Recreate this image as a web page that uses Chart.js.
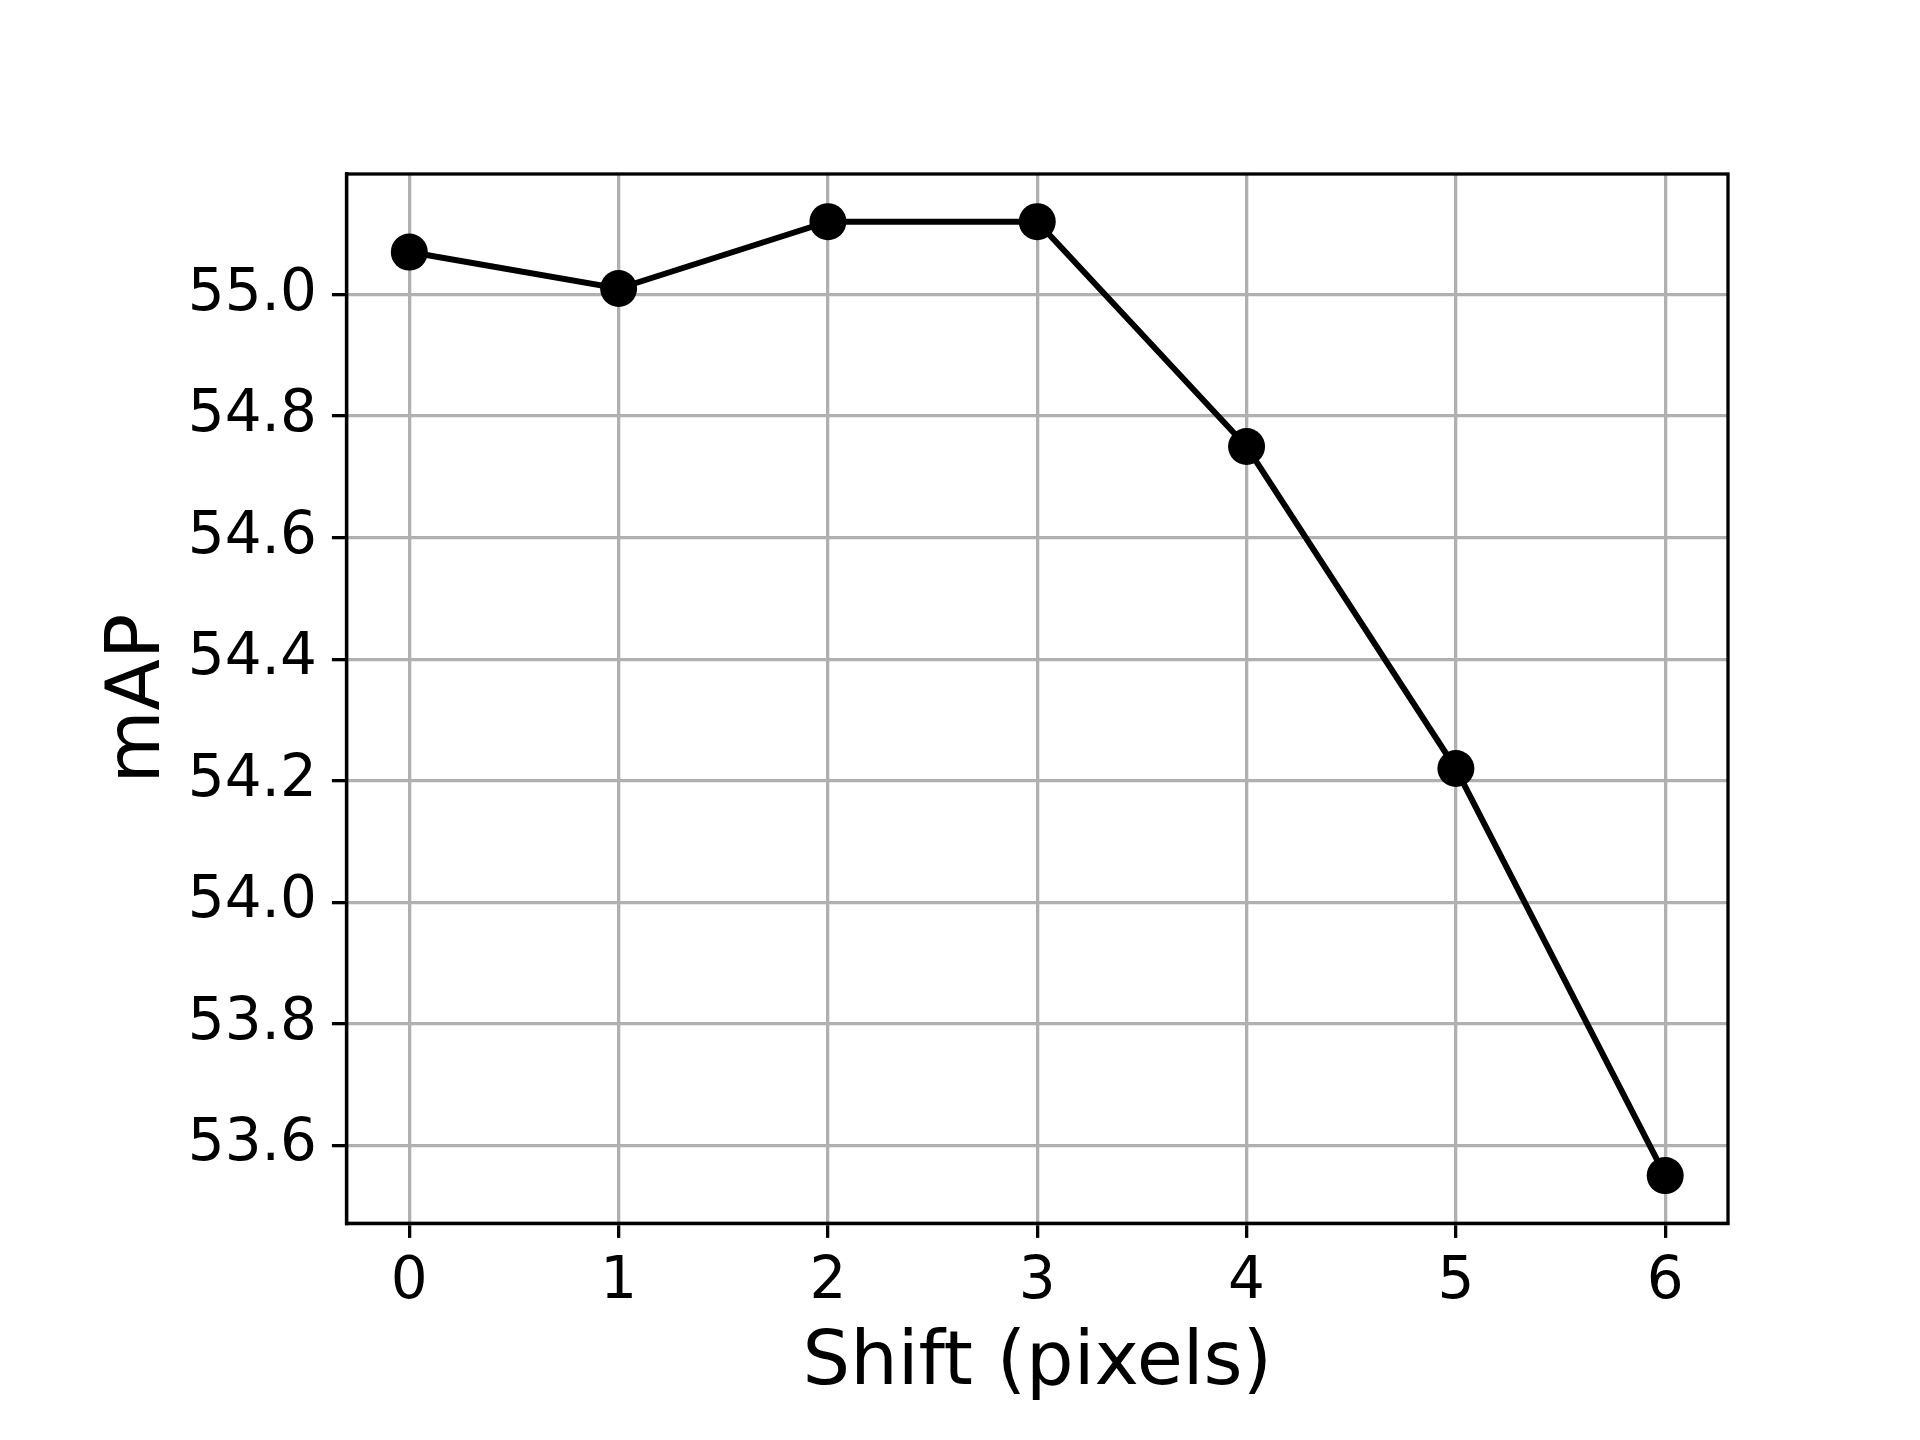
<!DOCTYPE html>
<html>
<head>
<meta charset="utf-8">
<script src="https://cdn.jsdelivr.net/npm/chart.js@4"></script>
<style>
  body { margin: 0; background: #fff; }
  #wrap { width: 1920px; height: 1440px; }
</style>
</head>
<body>
<div id="wrap"><canvas id="shiftChart"></canvas></div>
<script>
// data
var shiftValues = [0, 1, 2, 3, 4, 5, 6];
var mapValues = [55.07, 55.01, 55.12, 55.12, 54.75, 54.22, 53.55];
var xTicks = [0, 1, 2, 3, 4, 5, 6];
var yTicks = [53.6, 53.8, 54.0, 54.2, 54.4, 54.6, 54.8, 55.0];

// box round the plot (top and right spines)
var frame = {
    id: 'frame',
    beforeDatasetsDraw: function(chart) {
        var a = chart.chartArea, c = chart.ctx;
        c.save();
        c.strokeStyle = '#000';
        c.lineWidth = 3.3;
        c.strokeRect(a.left, a.top, a.right - a.left, a.bottom - a.top);
        c.restore();
    }
};

document.addEventListener('DOMContentLoaded', function() {
    var ctx = document.getElementById('shiftChart').getContext('2d');
    new Chart(ctx, {
        type: 'line',
        data: {
            datasets: [{
                label: 'mAP',
                data: shiftValues.map(function(s, i) { return { x: s, y: mapValues[i] }; }),
                borderColor: '#000',
                backgroundColor: '#000',
                borderWidth: 6,
                pointRadius: 18.5,
                pointBackgroundColor: '#000',
                pointBorderWidth: 0,
                tension: 0,
                clip: false
            }]
        },
        options: {
            responsive: true,
            maintainAspectRatio: false,
            devicePixelRatio: 1,
            animation: false,
            layout: { padding: { left: 0, top: 174, right: 192, bottom: 0 } },
            plugins: {
                legend: { display: false },
                tooltip: { enabled: false }
            },
            scales: {
                x: {
                    type: 'linear',
                    min: -0.3,
                    max: 6.3,
                    afterBuildTicks: function(scale) {
                        scale.ticks = xTicks.map(function(v) { return { value: v }; });
                    },
                    afterFit: function(scale) { scale.height = 216.7; },
                    grid: { color: '#b0b0b0', lineWidth: 3.3, tickLength: 14.6, tickColor: '#000', tickWidth: 3.3 },
                    border: { display: true, color: '#000', width: 3.3 },
                    ticks: {
                        color: '#000',
                        padding: 10,
                        maxRotation: 0,
                        font: { family: 'DejaVu Sans', size: 58 },
                        callback: function(v) { return String(v); }
                    },
                    title: {
                        display: true,
                        text: 'Shift (pixels)',
                        color: '#000',
                        font: { family: 'DejaVu Sans', size: 75 },
                        padding: { top: 0, bottom: 30 }
                    }
                },
                y: {
                    min: 53.4715,
                    max: 55.1985,
                    afterBuildTicks: function(scale) {
                        scale.ticks = yTicks.map(function(v) { return { value: v }; });
                    },
                    afterFit: function(scale) { scale.width = 346.5; },
                    grid: { color: '#b0b0b0', lineWidth: 3.3, tickLength: 14.6, tickColor: '#000', tickWidth: 3.3 },
                    border: { display: true, color: '#000', width: 3.3 },
                    ticks: {
                        color: '#000',
                        padding: 15,
                        font: { family: 'DejaVu Sans', size: 58 },
                        callback: function(v) { return Number(v).toFixed(1); }
                    },
                    title: {
                        display: true,
                        text: 'mAP',
                        color: '#000',
                        font: { family: 'DejaVu Sans', size: 75 },
                        padding: { top: 95, bottom: 0 }
                    }
                }
            }
        },
        plugins: [frame]
    });
});
</script>
</body>
</html>
